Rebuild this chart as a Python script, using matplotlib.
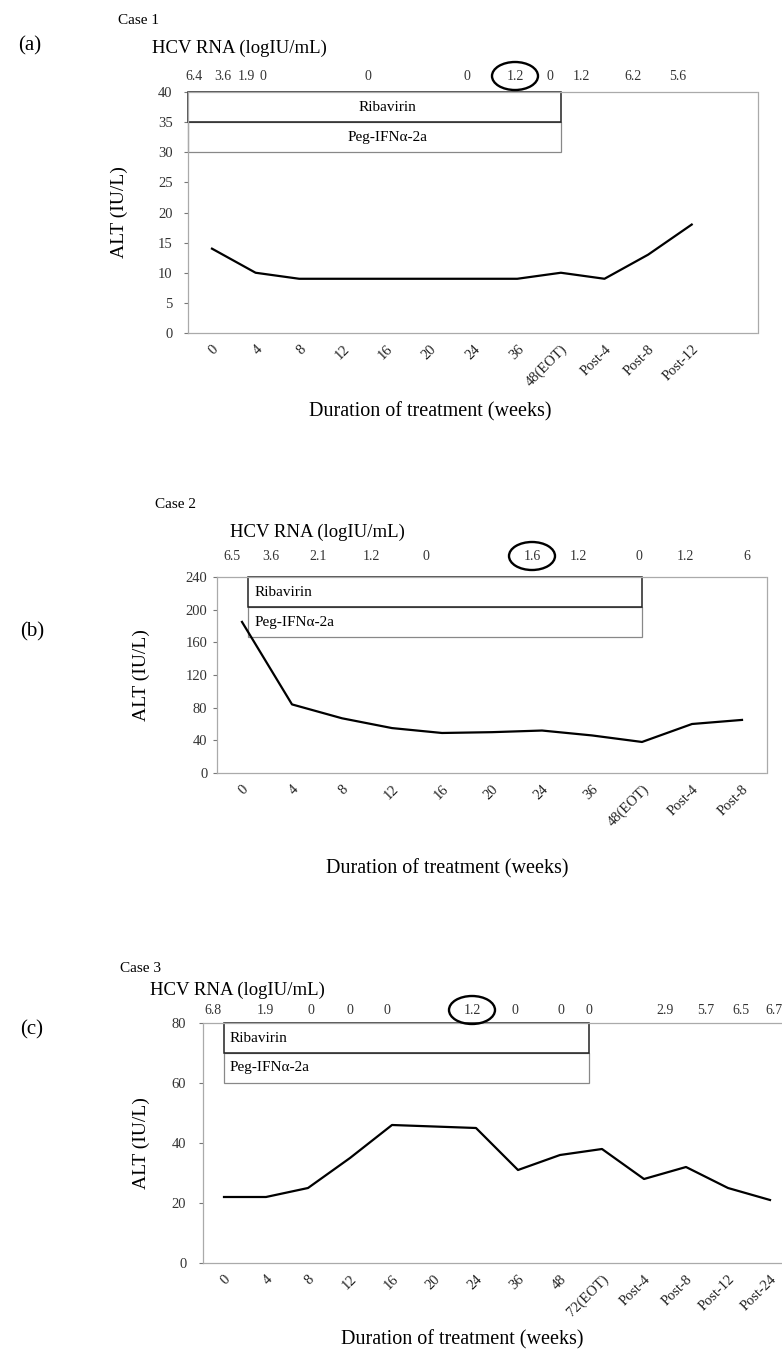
import matplotlib
matplotlib.use('Agg')
import matplotlib.pyplot as plt
from matplotlib.patches import Rectangle, Ellipse

# ---------------- data ----------------
weeks_a = ['0', '4', '8', '12', '16', '20', '24', '36', '48(EOT)', 'Post-4', 'Post-8', 'Post-12']
alt_a = [14, 10, 9, 9, 9, 9, 9, 9, 10, 9, 13, 18]
hcv_a = ['6.4', '3.6', '1.9', '0', '0', '0', '1.2', '0', '1.2', '6.2', '5.6']
circled_a = 6

weeks_b = ['0', '4', '8', '12', '16', '20', '24', '36', '48(EOT)', 'Post-4', 'Post-8']
alt_b = [185, 84, 67, 55, 49, 50, 52, 46, 38, 60, 65]
hcv_b = ['6.5', '3.6', '2.1', '1.2', '0', '1.6', '1.2', '0', '1.2', '6']
circled_b = 5

weeks_c = ['0', '4', '8', '12', '16', '20', '24', '36', '48', '72(EOT)',
           'Post-4', 'Post-8', 'Post-12', 'Post-24']
alt_c = [22, 22, 25, 35, 46, 45.5, 45, 31, 36, 38, 28, 32, 25, 21]
hcv_c = ['6.8', '1.9', '0', '0', '0', '1.2', '0', '0', '0', '2.9', '5.7', '6.5', '6.7']
circled_c = 5

# ---------------- layout ----------------
W, H, DPI = 782, 1358, 100
plt.rcParams['font.family'] = ['Liberation Serif', 'DejaVu Serif']
fig = plt.figure(figsize=(W / DPI, H / DPI), dpi=DPI)
fig.patch.set_facecolor('white')

panels = [
    dict(tag='(a)', case='Case 1', weeks=weeks_a, alt=alt_a, hcv=hcv_a, circ=circled_a,
         box=(188, 758, 92, 333), ylim=(0, 40), ystep=5, xlim=(-0.55, 12.52), ypad=8,
         hcv_px=[194, 223, 246, 263, 368, 467, 515, 550, 581, 633, 678], hcv_y=76,
         title_xy=(152, 48), case_xy=(118, 20), tag_xy=(18, 46),
         rib=(-0.55, 8.0, 35, 40), peg=(-0.55, 8.0, 30, 35), center_text=True,
         xlabel_xy=(430, 412), ylabel_x=128),
    dict(tag='(b)', case='Case 2', weeks=weeks_b, alt=alt_b, hcv=hcv_b, circ=circled_b,
         box=(217, 767, 577, 773), ylim=(0, 240), ystep=40, xlim=(-0.5, 10.5), ypad=4,
         hcv_px=[232, 271, 318, 371, 426, 532, 578, 639, 685, 747], hcv_y=556,
         title_xy=(230, 532), case_xy=(155, 505), tag_xy=(20, 632),
         rib=(0.12, 8.0, 203, 240), peg=(0.12, 8.0, 166.5, 203), center_text=False,
         xlabel_xy=(447, 869), ylabel_x=150),
    dict(tag='(c)', case='Case 3', weeks=weeks_c, alt=alt_c, hcv=hcv_c, circ=circled_c,
         box=(203, 791, 1023, 1263), ylim=(0, 80), ystep=20, xlim=(-0.5, 13.5), ypad=9,
         hcv_px=[213, 265, 311, 350, 387, 472, 515, 561, 589, 665, 706, 741, 774], hcv_y=1010,
         title_xy=(150, 990), case_xy=(120, 968), tag_xy=(20, 1030),
         rib=(0.0, 8.7, 70, 80), peg=(0.0, 8.7, 60, 70), center_text=False,
         xlabel_xy=(462, 1340), ylabel_x=150),
]

for p in panels:
    l, r, t, b = p['box']
    ax = fig.add_axes([l / W, 1 - b / H, (r - l) / W, (b - t) / H])
    x = list(range(len(p['weeks'])))
    ax.plot(x, p['alt'], color='black', lw=1.6, solid_joinstyle='round', zorder=3)
    ax.set_xlim(*p['xlim'])
    ax.set_ylim(*p['ylim'])
    ax.set_yticks(range(p['ylim'][0], p['ylim'][1] + 1, p['ystep']))
    ax.set_xticks(x)
    ax.set_xticklabels(p['weeks'], rotation=45, ha='right', va='top',
                       rotation_mode='anchor', fontsize=10.5, color='#222')
    ax.tick_params(axis='y', labelsize=10.5, labelcolor='#333', length=3,
                   color='#777', width=0.8, pad=p['ypad'])
    ax.tick_params(axis='x', length=0, pad=7)
    for s in ax.spines.values():
        s.set_color('#aaa')
        s.set_linewidth(0.9)
        s.set_linestyle((0, (1, 1)))

    # treatment boxes
    px0, px1, py0, py1 = p['peg']
    ax.add_patch(Rectangle((px0, py0), px1 - px0, py1 - py0, fill=False,
                           ec='#888', lw=0.9, zorder=2, clip_on=False))
    rx0, rx1, ry0, ry1 = p['rib']
    ax.add_patch(Rectangle((rx0, ry0), rx1 - rx0, ry1 - ry0, fill=False,
                           ec='#222', lw=1.1, zorder=2, clip_on=False))
    if p['center_text']:
        ax.text((rx0 + rx1) / 2 + 0.3, (ry0 + ry1) / 2, 'Ribavirin', ha='center', va='center', fontsize=11)
        ax.text((px0 + px1) / 2 + 0.3, (py0 + py1) / 2, 'Peg-IFN\u03b1-2a', ha='center', va='center', fontsize=11)
    else:
        ax.text(rx0 + 0.13, (ry0 + ry1) / 2, 'Ribavirin', ha='left', va='center', fontsize=11)
        ax.text(px0 + 0.13, (py0 + py1) / 2, 'Peg-IFN\u03b1-2a', ha='left', va='center', fontsize=11)

    # axis labels
    ax.set_ylabel('ALT (IU/L)', fontsize=14)
    ax.yaxis.set_label_coords((p['ylabel_x'] - l) / (r - l), 0.5)
    ax.set_xlabel('Duration of treatment (weeks)', fontsize=14.5)
    ax.xaxis.set_label_coords((p['xlabel_xy'][0] - l) / (r - l), (b - p['xlabel_xy'][1]) / (b - t))
    ax.xaxis.label.set_va('center')

    # texts above the panel
    fig.text(p['case_xy'][0] / W, 1 - p['case_xy'][1] / H, p['case'], fontsize=11,
             ha='left', va='center')
    fig.text(p['tag_xy'][0] / W, 1 - p['tag_xy'][1] / H, p['tag'], fontsize=15,
             ha='left', va='center')
    fig.text(p['title_xy'][0] / W, 1 - p['title_xy'][1] / H, 'HCV RNA (logIU/mL)', fontsize=13.5,
             ha='left', va='center')
    for i, (val, xp) in enumerate(zip(p['hcv'], p['hcv_px'])):
        fig.text(xp / W, 1 - p['hcv_y'] / H, val, fontsize=10, color='#333',
                 ha='center', va='center')
        if i == p['circ']:
            fig.add_artist(Ellipse((xp / W, 1 - p['hcv_y'] / H), 46 / W, 28 / H,
                                   transform=fig.transFigure, fill=False,
                                   ec='black', lw=1.7))

fig.savefig('out.png', dpi=DPI, facecolor='white')
